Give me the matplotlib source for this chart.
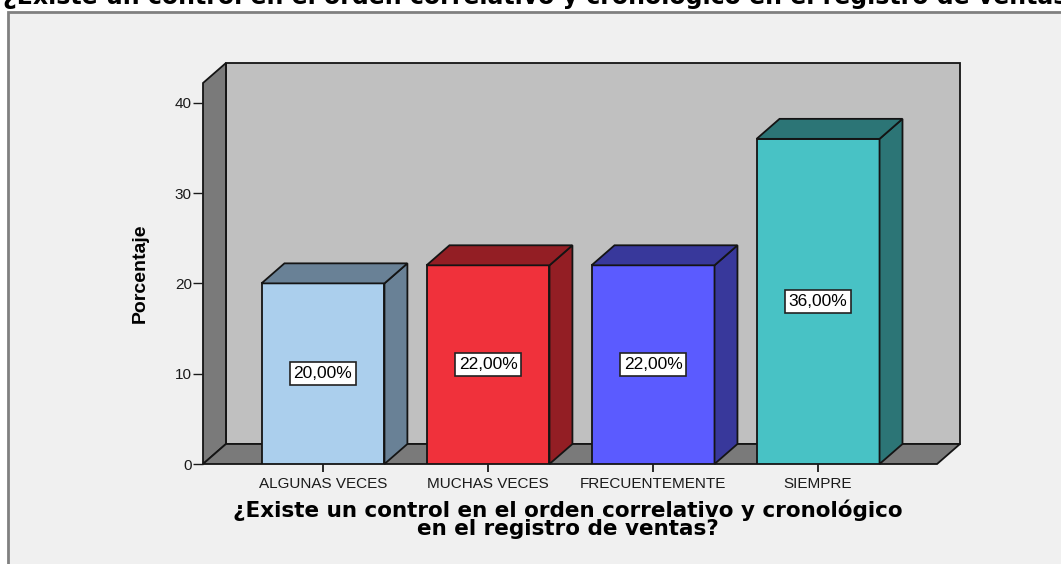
import matplotlib.pyplot as plt
from matplotlib.patches import Polygon, Rectangle

categorias = ['ALGUNAS VECES', 'MUCHAS VECES', 'FRECUENTEMENTE', 'SIEMPRE']
porcentajes = [20.0, 22.0, 22.0, 36.0]
etiquetas = ['20,00%', '22,00%', '22,00%', '36,00%']
yticks = [0, 10, 20, 30, 40]

colores = ['#abcfed', '#f0313b', '#5b5bff', '#48c2c5']
oscuros = ['#698196', '#931e24', '#38389b', '#2c7576']

titulo = '¿Existe un control en el orden correlativo y cronológico en el registro de ventas?'
xlabel = '¿Existe un control en el orden correlativo y cronológico\nen el registro de ventas?'

W, H = 1061, 564
fig = plt.figure(figsize=(W / 100, H / 100), dpi=100, facecolor='white')

# marco gris del visor
fig.patches.append(Rectangle((8 / W, -0.02), 1.05, 1 - 12 / H + 0.02, transform=fig.transFigure,
                             fc='#f0f0f0', ec='#808080', lw=2, zorder=-5))
fig.text(3 / W, 1 - 4 / H, titulo, ha='left', va='baseline', fontsize=17,
         fontweight='bold', family='DejaVu Sans')

ax = fig.add_axes([203 / W, (H - 464) / H, (960 - 203) / W, (464 - 63) / H])
ax.set_facecolor('none')
for s in ax.spines.values():
    s.set_visible(False)

x0, x1 = -0.727, 3.86
ytop = 44.4
dx, dy = 0.139, 2.216
w = 0.745
ec = '#141414'
ax.set_xlim(x0, x1)
ax.set_ylim(0, ytop)

# paredes y piso
ax.add_patch(Polygon([(x0 + dx, dy), (x1, dy), (x1, ytop), (x0 + dx, ytop)],
                     fc='#c0c0c0', ec=ec, lw=1.3, clip_on=False, zorder=1))
ax.add_patch(Polygon([(x0, 0), (x0 + dx, dy), (x0 + dx, ytop), (x0, ytop - dy)],
                     fc='#7a7a7a', ec=ec, lw=1.3, clip_on=False, zorder=1))
ax.add_patch(Polygon([(x0, 0), (x1 - dx, 0), (x1, dy), (x0 + dx, dy)],
                     fc='#7a7a7a', ec=ec, lw=1.3, clip_on=False, zorder=1))

pos = list(range(len(categorias)))
ax.bar(pos, porcentajes, width=w, color=colores, edgecolor=ec, lw=1.3, zorder=3)
for i, v in enumerate(porcentajes):
    l, r = i - w / 2, i + w / 2
    ax.add_patch(Polygon([(r, 0), (r + dx, dy), (r + dx, v + dy), (r, v)],
                         fc=oscuros[i], ec=ec, lw=1.3, clip_on=False, zorder=3))
    ax.add_patch(Polygon([(l, v), (r, v), (r + dx, v + dy), (l + dx, v + dy)],
                         fc=oscuros[i], ec=ec, lw=1.3, clip_on=False, zorder=3))
    ax.text(i, v / 2, etiquetas[i], ha='center', va='center', fontsize=12.5,
            family='Liberation Sans', zorder=5,
            bbox=dict(boxstyle='square,pad=0.22', fc='white', ec='#222222', lw=1.2))

ax.set_yticks(yticks)
ax.set_xticks(pos)
ax.set_xticklabels(categorias)
ax.tick_params(axis='y', length=7, width=1, pad=1, labelsize=11, colors='#1a1a1a')
ax.tick_params(axis='x', length=6, width=1.3, pad=3, labelsize=11, colors='#1a1a1a')
for t in ax.get_xticklabels() + ax.get_yticklabels():
    t.set_family('Liberation Sans')

fig.text(140 / W, (H - 273) / H, 'Porcentaje', rotation=90, ha='center', va='center',
         fontsize=14, fontweight='bold', family='Liberation Sans')
fig.text(568 / W, (H - 519) / H, xlabel, ha='center', va='center', fontsize=15.5,
         fontweight='bold', family='DejaVu Sans', linespacing=0.85)

fig.savefig('out.png', dpi=100, facecolor='white')
